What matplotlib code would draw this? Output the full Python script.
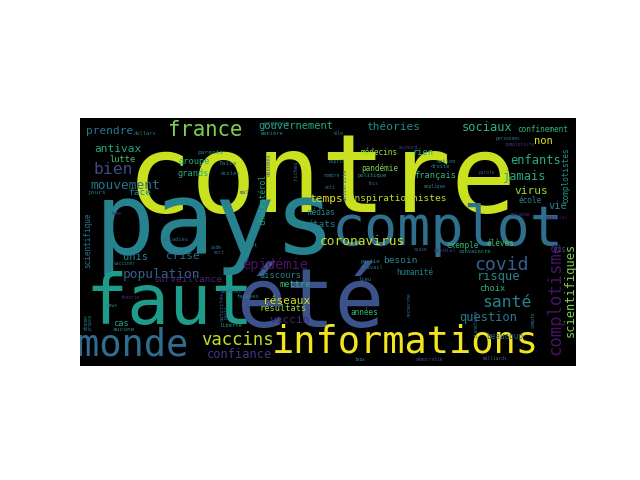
import matplotlib
matplotlib.use("Agg")
import matplotlib.pyplot as plt

# word cloud content: word, weight (em size in pixels), viridis shade
words = [
    "contre", "pays", "complot", "faut", "été", "informations", "monde",
    "vaccins", "france", "gouvernement", "prendre", "antivax", "bien",
    "mouvement", "lutte", "groupe", "grands", "théories", "sociaux",
    "confinement", "non", "médecins", "rien", "enfants", "pandémie",
    "jamais", "français", "virus", "conspirationnistes", "temps",
    "coronavirus", "covid", "santé", "risque", "choix", "question",
    "beaucoup", "complotisme", "scientifiques", "complotistes", "épidémie",
    "population", "unis", "crise", "surveillance", "discours", "mettre",
    "réseaux", "résultats", "vaccin", "confiance", "années", "humanité",
    "besoin", "exemple", "élèves", "médias", "états", "cholestérol",
    "face", "scientifique", "jours", "maladies", "cas", "aucune",
    "parents", "faits", "écoles", "urgence", "manière", "dollars",
    "action", "droite", "politique", "fois", "école", "vie", "vis",
    "partie", "travail", "lieu", "mondial", "convaincre", "données",
    "riches", "université", "mal", "fake", "vaccinér", "théorie",
    "autorités", "paris", "liberté", "familles", "fausses", "mort", "aide",
    "sujet", "donner", "propos", "news", "recherche", "planétaire",
    "compte", "cause", "maladie", "question", "parole", "explique",
    "complotiste", "personnes", "aujourd", "rôle", "esprit", "nombre",
    "anti", "taux", "démocratie", "milliards", "difficile",
]
weights = [
    108, 100, 55, 70, 82, 37, 37, 20, 24, 12, 13, 13, 19, 15, 10, 10, 10,
    13, 14, 9, 12, 9, 10, 14, 9, 14, 10, 13, 11, 13, 15, 21, 19, 14, 10,
    14, 9, 20, 14, 9, 16, 15, 12, 13, 11, 10, 10, 13, 10, 13, 14, 9, 9, 11,
    9, 9, 9, 11, 9, 11, 9, 8, 7, 10, 8, 8, 8, 7, 8, 7, 7, 7, 7, 7, 6, 9,
    12, 9, 7, 7, 7, 7, 7, 7, 7, 7, 7, 6, 6, 6, 7, 6, 7, 6, 7, 6, 6, 7, 6,
    6, 6, 6, 6, 6, 6, 6, 6, 6, 6, 6, 6, 6, 6, 6, 6, 6, 6, 6, 6, 6,
]
shades = [
    0.92, 0.44, 0.36, 0.55, 0.25, 0.98, 0.35, 0.90, 0.80, 0.60, 0.40, 0.60,
    0.22, 0.38, 0.70, 0.62, 0.62, 0.48, 0.65, 0.65, 0.95, 0.85, 0.65, 0.62,
    0.80, 0.60, 0.65, 0.85, 0.90, 0.95, 0.92, 0.30, 0.45, 0.45, 0.65, 0.40,
    0.30, 0.05, 0.80, 0.50, 0.05, 0.30, 0.45, 0.35, 0.10, 0.45, 0.65, 0.92,
    0.85, 0.12, 0.15, 0.65, 0.45, 0.45, 0.65, 0.70, 0.45, 0.42, 0.60, 0.45,
    0.40, 0.40, 0.35, 0.60, 0.50, 0.45, 0.40, 0.40, 0.50, 0.45, 0.40, 0.45,
    0.45, 0.55, 0.30, 0.45, 0.45, 0.20, 0.45, 0.40, 0.40, 0.15, 0.55, 0.30,
    0.35, 0.30, 0.30, 0.15, 0.40, 0.10, 0.30, 0.30, 0.55, 0.30, 0.45, 0.30,
    0.40, 0.45, 0.50, 0.40, 0.40, 0.35, 0.35, 0.40, 0.30, 0.15, 0.05, 0.25,
    0.45, 0.15, 0.40, 0.20, 0.40, 0.40, 0.40, 0.30, 0.45, 0.20, 0.30, 0.25,
]

# layout in reference pixel space: centre x, centre y, rotation
layout = [
    (322, 182, 0), (215, 226, 0), (448, 230, 0), (170, 305, 0),
    (310, 305, 0), (405, 342, 0), (133, 345, 0), (237, 340, 0),
    (205, 130, 0), (296, 126, 0), (110, 131, 0), (118, 149, 0),
    (113, 170, 0), (125, 186, 0), (122, 160, 0), (194, 162, 0),
    (193, 174, 0), (393, 127, 0), (487, 128, 0), (543, 130, 0),
    (543, 141, 0), (379, 153, 0), (423, 153, 0), (536, 161, 0),
    (380, 168, 0), (525, 177, 0), (435, 176, 0), (531, 191, 0),
    (395, 199, 0), (326, 199, 0), (362, 242, 0), (501, 265, 0),
    (507, 303, 0), (499, 277, 0), (492, 289, 0), (488, 318, 0),
    (505, 337, 0), (555, 298, 90), (570, 290, 90), (566, 175, 90),
    (275, 265, 0), (162, 275, 0), (136, 257, 0), (183, 256, 0),
    (188, 280, 0), (281, 276, 0), (295, 285, 0), (287, 301, 0),
    (283, 309, 0), (290, 320, 0), (239, 355, 0), (364, 313, 0),
    (415, 273, 0), (400, 261, 0), (463, 246, 0), (500, 244, 0),
    (321, 213, 0), (322, 225, 0), (263, 200, 90), (140, 193, 0),
    (88, 240, 90), (97, 193, 0), (176, 240, 0), (121, 324, 0),
    (124, 330, 0), (210, 153, 0), (228, 164, 0), (230, 174, 0),
    (276, 124, 0), (272, 134, 0), (145, 134, 0), (446, 162, 0),
    (440, 167, 0), (372, 176, 0), (373, 184, 0), (530, 201, 0),
    (558, 206, 0), (560, 250, 0), (370, 262, 0), (372, 268, 0),
    (365, 280, 0), (445, 251, 0), (475, 252, 0), (269, 165, 90),
    (295, 170, 90), (345, 185, 90), (245, 193, 0), (116, 214, 0),
    (125, 264, 0), (130, 298, 0), (222, 306, 90), (226, 312, 90),
    (231, 326, 0), (231, 292, 0), (248, 297, 0), (219, 253, 0),
    (216, 248, 0), (250, 246, 0), (86, 322, 90), (90, 322, 90),
    (112, 306, 0), (409, 305, 90), (476, 323, 90), (533, 320, 90),
    (420, 250, 0), (520, 215, 0), (557, 218, 0), (487, 173, 0),
    (435, 187, 0), (520, 145, 0), (508, 139, 0), (408, 148, 0),
    (338, 134, 0), (337, 162, 0), (332, 176, 0), (330, 188, 0),
    (360, 360, 0), (430, 360, 0), (495, 359, 0),
]


def main() -> None:
    fig = plt.figure(figsize=(6.4, 4.8), dpi=100)
    ax = fig.add_axes([80 / 640, 1 - 366 / 480, 496 / 640, 248 / 480])
    ax.set_xlim(80, 576)
    ax.set_ylim(366, 118)
    ax.set_facecolor("black")
    ax.set_xticks([])
    ax.set_yticks([])
    for side in ax.spines.values():
        side.set_visible(False)

    cmap = plt.get_cmap("viridis")
    for word, em, shade, (x, y, rot) in zip(words, weights, shades, layout):
        # small words came out a touch large, shrink them
        scale = 0.72 if em >= 30 else (0.62 if em >= 9 else 0.55)
        ax.text(
            x, y, word,
            fontsize=em * scale,
            family="DejaVu Sans Mono",
            color=cmap(shade),
            rotation=rot,
            ha="center",
            va="center",
            clip_on=True,
        )

    fig.savefig("out.png", dpi=100)
    plt.close(fig)


if __name__ == "__main__":
    main()
